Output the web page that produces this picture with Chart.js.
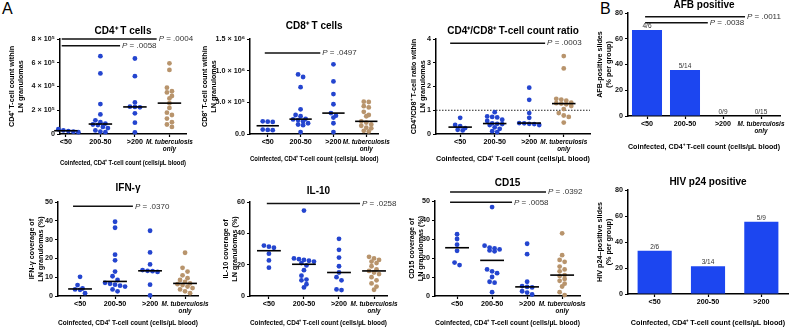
<!DOCTYPE html>
<html>
<head>
<meta charset="utf-8">
<script src="https://cdn.jsdelivr.net/npm/chart.js@4.4.1/dist/chart.umd.min.js"></script>
<style>
  body { margin: 0; width: 796px; height: 328px; background: #fff; position: relative; overflow: hidden; font-family: "Liberation Sans", Arial, sans-serif; }
  canvas { position: absolute; }
  .letter { position: absolute; font-size: 16px; color: #000; line-height: 1; }
</style>
</head>
<body>
<div class="letter" style="left:2px;top:1px">A</div>
<div class="letter" style="left:600px;top:1px">B</div>
<script>
const FONT = '"Liberation Sans", Arial, Helvetica, sans-serif'
const BLUE = '#2445cf'
const TAN = '#b8946c'
const BAR_BLUE = '#1c46f0'

const groupNames = ['<50', '200-50', '>200', ['M. tuberculosis', 'only']]
const axisTitle = 'Coinfected, CD4⁺ T-cell count (cells/µL blood)'

// dot plots, one list per group: <50, 200-50, >200, M. tuberculosis only
const cd4Counts = [
  [45000, 40000, 30000, 25000, 20000, 15000],
  [655000, 510000, 252000, 165000, 115000, 100000, 88000, 80000, 75000, 60000, 50000, 30000, 20000, 15000],
  [636000, 487000, 266000, 230000, 228000, 225000, 174000, 95000, 14000],
  [595000, 540000, 390000, 360000, 350000, 320000, 300000, 260000, 220000, 180000, 160000, 130000, 100000, 80000, 60000]
]
const cd8Counts = [
  [200000, 195000, 190000, 70000, 65000, 60000],
  [940000, 900000, 740000, 390000, 300000, 280000, 240000, 230000, 220000, 200000, 170000, 150000, 140000, 30000],
  [1100000, 830000, 630000, 470000, 330000, 290000, 260000, 170000, 30000],
  [510000, 505000, 440000, 420000, 350000, 300000, 280000, 200000, 180000, 150000, 130000, 100000, 90000, 50000, 40000]
]
const cd4cd8Ratio = [
  [0.68, 0.38, 0.33, 0.25, 0.18, 0.15],
  [0.92, 0.74, 0.72, 0.70, 0.60, 0.55, 0.45, 0.43, 0.42, 0.38, 0.28, 0.22, 0.12, 0.08],
  [1.95, 1.44, 0.88, 0.68, 0.46, 0.45, 0.43, 0.42, 0.38],
  [3.28, 2.76, 1.48, 1.45, 1.40, 1.32, 1.30, 1.28, 1.25, 1.18, 1.05, 0.88, 0.78, 0.72, 0.48]
]
const ifnCoverage = [
  [10.2, 5.8, 4.0, 3.5, 3.3, 1.5],
  [39.5, 36.3, 22, 19, 13, 10.5, 8.5, 7.0, 6.5, 6.0, 5.5, 5.0, 3.5, 2.5],
  [34.7, 23.2, 16.8, 13.8, 13.4, 13.2, 12.8, 6.0, 0.3],
  [23, 15, 13, 11, 9.5, 8.5, 7.5, 6.7, 6.3, 5.8, 5.0, 4.2, 3.5, 2.5, 1.5]
]
const il10Coverage = [
  [32.2, 31.5, 30.8, 27.0, 22.7, 18.1],
  [54.5, 24, 23.5, 23, 22.5, 22, 21, 19.5, 16.5, 13, 10.5, 10, 7.5, 5.5],
  [36.5, 29.5, 24.5, 19, 15, 12, 10, 4.2, 3.8],
  [25, 24, 23, 22, 21, 19, 17, 16, 15, 14, 12, 10, 8, 6, 4]
]
const cd15Coverage = [
  [32.5, 30, 27, 23.8, 17.6, 16.3],
  [46.8, 26.5, 25.5, 25, 24.5, 24, 23.5, 14, 13, 12, 10, 7.5, 7, 2],
  [27.5, 22, 7.5, 5.2, 4.8, 4.5, 2.5, 1.8, 0.8],
  [33, 21.5, 19, 18, 15.5, 14, 13, 11, 10.5, 9, 8, 6.5, 5, 2, 0.5]
]

// bar panels (% positive slides per group)
const afbPercent = [66.7, 35.7, 0, 0]
const afbFractions = ['4/6', '5/14', '0/9', '0/15']
const p24Percent = [33.3, 21.4, 55.6]
const p24Fractions = ['2/6', '3/14', '5/9']

// y ticks
const cd4Ticks = [0, 200000, 400000, 600000, 800000]
const cd4TickLabels = ['0', '2 × 10⁵', '4 × 10⁵', '6 × 10⁵', '8 × 10⁵']
const cd8Ticks = [0, 500000, 1000000, 1500000]
const cd8TickLabels = ['0.0', '5.0 × 10⁵', '1.0 × 10⁶', '1.5 × 10⁶']
const ratioTicks = [0, 1, 2, 3, 4]
const ifnTicks = [0, 10, 20, 30, 40, 50]
const il10Ticks = [0, 20, 40, 60]
const cd15Ticks = [0, 10, 20, 30, 40, 50]
const pctTicks = [0, 20, 40, 60, 80]

// significance bars: group span and height on the value axis
const cd4Sig = [{ from: -0.12, to: 2.63, y: 800000, p: '.0004' }, { from: -0.12, to: 1.57, y: 744000, p: '.0058' }]
const cd8Sig = [{ from: -0.09, to: 1.6, y: 1280000, p: '.0497' }]
const ratioSig = [{ from: -0.29, to: 2.46, y: 3.82, p: '.0003' }]
const ifnSig = [{ from: -0.2, to: 1.51, y: 47.7, p: '.0370' }]
const il10Sig = [{ from: -0.06, to: 2.6, y: 59, p: '.0258' }]
const cd15Sig = [{ from: -0.2, to: 2.54, y: 54.8, p: '.0392' }, { from: -0.2, to: 1.57, y: 49.3, p: '.0058' }]
const afbSig = [{ from: -0.05, to: 2.58, y: 77, p: '.0011' }, { from: -0.05, to: 1.6, y: 72.5, p: '.0038' }]

Chart.defaults.font.family = FONT

const annotations = {
  id: 'sig',
  afterDatasetsDraw(chart, args, opts) {
    const { ctx } = chart
    const xs = chart.scales.x, ys = chart.scales.y
    ctx.save()
    ;(opts.lines || []).forEach(l => {
      const x1 = xs.getPixelForValue(l.from), x2 = xs.getPixelForValue(l.to), y = ys.getPixelForValue(l.y)
      ctx.strokeStyle = '#111'
      ctx.lineWidth = 1.5
      ctx.beginPath(); ctx.moveTo(x1, y); ctx.lineTo(x2, y); ctx.stroke()
      ctx.fillStyle = '#333'
      ctx.textBaseline = 'middle'
      ctx.textAlign = 'left'
      ctx.font = 'italic 8px ' + FONT
      ctx.fillText('P', x2 + 2, y)
      const w = ctx.measureText('P').width
      ctx.font = '8px ' + FONT
      ctx.fillText(' = ' + l.p, x2 + 2 + w, y)
    })
    const frac = opts.fractions || []
    if (frac.length) {
      const meta = chart.getDatasetMeta(0)
      ctx.fillStyle = '#333'
      ctx.font = '6.5px ' + FONT
      ctx.textAlign = 'center'
      ctx.textBaseline = 'bottom'
      meta.data.forEach((bar, i) => ctx.fillText(frac[i], bar.x, bar.y - 0.5))
    }
    ctx.restore()
  }
}
Chart.register(annotations)

function median(v) {
  const s = [...v].sort((a, b) => a - b), m = s.length >> 1
  return s.length % 2 ? s[m] : (s[m - 1] + s[m]) / 2
}

function addCanvas(p) {
  const c = document.createElement('canvas')
  c.width = p.width
  c.height = p.height
  c.style.left = p.left + 'px'
  c.style.top = p.top + 'px'
  document.body.appendChild(c)
  return c
}

// spread dots that sit at the same height side by side, like a column scatter
function swarm(chart) {
  const xs = chart.scales.x, ys = chart.scales.y
  const unit = xs.getPixelForValue(1) - xs.getPixelForValue(0)
  const gap = 5
  chart.data.datasets.forEach(ds => {
    if (!ds.swarm) return
    const pts = ds.data.slice().sort((a, b) => b.y - a.y)
    let row = []
    const flush = () => {
      row.forEach((pt, i) => { pt.x = pt.cat + (i - (row.length - 1) / 2) * gap / unit })
      row = []
    }
    pts.forEach(pt => {
      if (row.length && Math.abs(ys.getPixelForValue(pt.y) - ys.getPixelForValue(row[0].y)) >= 4) flush()
      row.push(pt)
    })
    flush()
  })
  chart.update('none')
}

function commonOptions(p, x) {
  const [pl, pt, pr, pb] = p.plot
  const lh = 7.2 * 1.2
  const grid = { display: true, drawOnChartArea: false, drawTicks: true, tickLength: 3, tickWidth: 1.2, color: '#000', tickColor: '#000', offset: false }
  const border = { display: true, color: '#000', width: 1.5 }
  const top = p.ticks[p.ticks.length - 1]
  return {
    responsive: false,
    animation: false,
    devicePixelRatio: 1,
    events: [],
    layout: { padding: { left: 0, top: 0, bottom: 0, right: p.left + p.width - pr } },
    plugins: {
      legend: { display: false },
      tooltip: { enabled: false },
      title: {
        display: true, text: p.title, fullSize: false, color: '#000',
        font: { size: 10, weight: 'bold', lineHeight: 1 },
        padding: { top: p.titleY - p.top - 5, bottom: pt - p.titleY - 5 }
      },
      sig: { lines: p.sig || [], fractions: p.fractions || [] }
    },
    scales: {
      x: Object.assign({}, x, {
        grid, border,
        ticks: Object.assign({
          color: '#000', padding: 1, maxRotation: 0, minRotation: 0, autoSkip: false,
          font: c => c.index === 3
            ? { size: 6.4, weight: 'bold', style: 'italic' }
            : { size: 7.2, weight: 'bold', style: 'normal' }
        }, x.ticks),
        title: {
          display: true, text: axisTitle, color: '#000',
          font: { size: 7.2, weight: 'bold' },
          padding: { top: 0, bottom: p.top + p.height - p.xTitleY - lh / 2 }
        },
        afterFit: s => { s.height = p.top + p.height - pb }
      }),
      y: {
        type: 'linear', min: 0, max: top,
        grid, border,
        afterBuildTicks: s => { s.ticks = p.ticks.map(v => ({ value: v })) },
        ticks: {
          color: '#111', padding: 2,
          font: { size: 7.2, weight: 'bold' },
          callback: v => p.tickLabels ? p.tickLabels[p.ticks.indexOf(v)] : String(v)
        },
        title: {
          display: true, text: p.yTitle, color: '#000',
          font: { size: 7.2, weight: 'bold' },
          padding: { top: p.yTitleX - p.left - lh / 2, bottom: 0 }
        },
        afterFit: s => { s.width = pl - p.left }
      }
    }
  }
}

function dotChart(p) {
  const datasets = []
  p.groups.forEach((vals, g) => {
    const med = median(vals)
    datasets.push({
      type: 'line', data: [{ x: g - 0.34, y: med }, { x: g + 0.34, y: med }],
      borderColor: '#000', borderWidth: 1.6, pointRadius: 0, order: 0, clip: false
    })
    datasets.push({
      type: 'scatter', data: vals.map(v => ({ x: g, y: v, cat: g })), swarm: true,
      pointBackgroundColor: g === 3 ? TAN : BLUE, pointBorderWidth: 0, pointRadius: 2.4, order: 1, clip: false
    })
  })
  if (p.refLine != null) {
    datasets.push({
      type: 'line', data: [{ x: p.xRange[0], y: p.refLine }, { x: p.xRange[1], y: p.refLine }],
      borderColor: '#222', borderWidth: 1, borderDash: [1.5, 1.5], pointRadius: 0, order: 2
    })
  }
  const chart = new Chart(addCanvas(p), {
    type: 'scatter',
    data: { datasets },
    options: commonOptions(p, {
      type: 'linear', min: p.xRange[0], max: p.xRange[1],
      afterBuildTicks: s => { s.ticks = groupNames.map((_, i) => ({ value: i })) },
      ticks: { callback: v => groupNames[v] }
    })
  })
  swarm(chart)
}

function barChart(p) {
  new Chart(addCanvas(p), {
    type: 'bar',
    data: {
      labels: groupNames.slice(0, p.values.length),
      datasets: [{ data: p.values, backgroundColor: BAR_BLUE, borderWidth: 0, categoryPercentage: 1, barPercentage: p.barPct }]
    },
    options: commonOptions(p, { type: 'category', offset: true, ticks: {} })
  })
}

dotChart({
  left: 6, top: 20, width: 194, height: 152, plot: [60, 39, 186, 134], xRange: [-0.17, 3.48],
  title: 'CD4⁺ T cells', titleY: 31, xTitleY: 163, yTitleX: 12,
  yTitle: ['CD4⁺ T-cell count within', 'LN granulomas'],
  groups: cd4Counts, ticks: cd4Ticks, tickLabels: cd4TickLabels, sig: cd4Sig
})
dotChart({
  left: 199, top: 14, width: 193, height: 156, plot: [250, 39, 387, 134], xRange: [-0.54, 3.37],
  title: 'CD8⁺ T cells', titleY: 26, xTitleY: 159, yTitleX: 205,
  yTitle: ['CD8⁺ T-cell count within', 'LN granulomas'],
  groups: cd8Counts, ticks: cd8Ticks, tickLabels: cd8TickLabels, sig: cd8Sig
})
dotChart({
  left: 408, top: 20, width: 186, height: 150, plot: [436, 39, 590, 134], xRange: [-0.7, 3.76],
  title: 'CD4⁺/CD8⁺ T-cell count ratio', titleY: 31, xTitleY: 159, yTitleX: 414,
  yTitle: ['CD4⁺/CD8⁺ T-cell ratio within', 'LN granulomas'],
  groups: cd4cd8Ratio, ticks: ratioTicks, sig: ratioSig, refLine: 1
})
dotChart({
  left: 26, top: 178, width: 190, height: 150, plot: [58, 202, 198, 296], xRange: [-0.63, 3.37],
  title: 'IFN-γ', titleY: 188, xTitleY: 323, yTitleX: 32,
  yTitle: ['IFN-γ coverage of', 'LN granulomas (%)'],
  groups: ifnCoverage, ticks: ifnTicks, sig: ifnSig
})
dotChart({
  left: 220, top: 180, width: 180, height: 148, plot: [250, 202, 387, 296], xRange: [-0.54, 3.37],
  title: 'IL-10', titleY: 191, xTitleY: 323, yTitleX: 226,
  yTitle: ['IL-10 coverage of', 'LN granulomas (%)'],
  groups: il10Coverage, ticks: il10Ticks, sig: il10Sig
})
dotChart({
  left: 406, top: 172, width: 188, height: 156, plot: [435, 201, 580, 296], xRange: [-0.63, 3.51],
  title: 'CD15', titleY: 183, xTitleY: 323, yTitleX: 412,
  yTitle: ['CD15 coverage of', 'LN granulomas (%)'],
  groups: cd15Coverage, ticks: cd15Ticks, sig: cd15Sig
})
barChart({
  left: 594, top: 0, width: 198, height: 155, plot: [628, 13, 780, 116],
  title: 'AFB positive', titleY: 5, xTitleY: 147, yTitleX: 600,
  yTitle: ['AFB-positive slides', '(% per group)'],
  values: afbPercent, fractions: afbFractions, ticks: pctTicks, sig: afbSig, barPct: 0.79
})
barChart({
  left: 594, top: 172, width: 198, height: 156, plot: [628, 190, 788, 294],
  title: 'HIV p24 positive', titleY: 182, xTitleY: 323, yTitleX: 600,
  yTitle: ['HIV p24–positive slides', '(% per group)'],
  values: p24Percent, fractions: p24Fractions, ticks: pctTicks, barPct: 0.64
})
</script>
</body>
</html>
